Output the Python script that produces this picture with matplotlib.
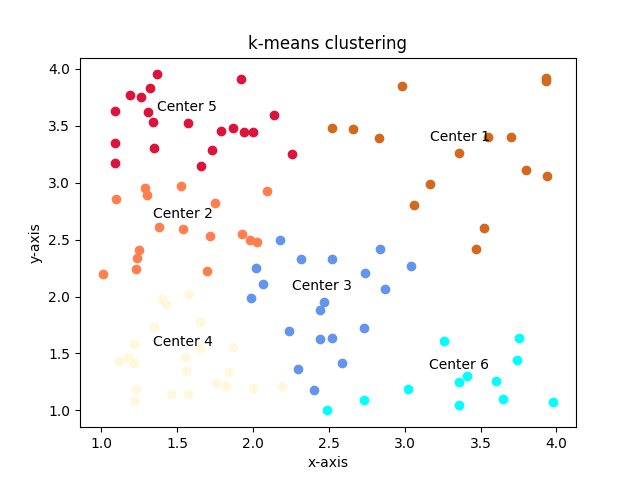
import matplotlib
matplotlib.use("Agg")
import matplotlib.pyplot as plt

red = [(1.37,3.95),(1.92,3.91),(1.19,3.77),(1.26,3.75),(1.32,3.83),(1.09,3.63),(1.31,3.62),(1.34,3.53),(1.57,3.52),(2.14,3.59),(1.79,3.45),(1.87,3.48),(1.94,3.44),(2.00,3.44),(1.09,3.35),(1.35,3.30),(1.73,3.29),(1.09,3.17),(1.66,3.15),(2.26,3.25)]
coral = [(1.29,2.95),(1.30,2.89),(1.53,2.97),(1.10,2.86),(1.75,2.82),(2.09,2.93),(1.38,2.61),(1.54,2.59),(1.72,2.53),(1.93,2.55),(1.98,2.50),(2.03,2.48),(1.25,2.41),(1.24,2.34),(1.01,2.20),(1.23,2.24),(1.70,2.22)]
choc = [(2.98,3.85),(3.93,3.92),(3.93,3.89),(2.52,3.48),(2.66,3.47),(2.83,3.39),(3.55,3.40),(3.70,3.40),(3.36,3.26),(3.17,2.99),(3.80,3.11),(3.94,3.06),(3.06,2.80),(3.52,2.60),(3.47,2.42)]
blue = [(2.18,2.50),(2.32,2.33),(2.52,2.33),(2.84,2.42),(3.04,2.27),(2.02,2.25),(2.74,2.21),(2.07,2.11),(2.87,2.07),(1.99,1.99),(2.47,1.95),(2.44,1.88),(2.24,1.70),(2.73,1.72),(2.44,1.63),(2.52,1.64),(2.59,1.42),(2.30,1.36),(2.40,1.18)]
cyan = [(3.26,1.61),(3.75,1.64),(3.74,1.44),(3.41,1.30),(3.36,1.25),(3.60,1.26),(3.02,1.19),(3.65,1.10),(3.36,1.05),(3.98,1.07),(2.73,1.09),(2.49,1.00)]
silk = [(1.40,1.98),(1.43,1.93),(1.58,2.02),(1.35,1.73),(1.65,1.78),(1.22,1.58),(1.55,1.47),(1.65,1.55),(1.87,1.56),(1.18,1.47),(1.22,1.42),(1.12,1.43),(1.56,1.35),(1.84,1.34),(1.76,1.24),(1.82,1.21),(2.00,1.20),(2.19,1.21),(1.23,1.19),(1.46,1.14),(1.57,1.14),(1.22,1.08)]

groups = [(choc,'chocolate'),(coral,'coral'),(blue,'cornflowerblue'),(silk,'cornsilk'),(red,'crimson'),(cyan,'cyan')]
labels = ["Center 1","Center 2","Center 3","Center 4","Center 5","Center 6"]
label_pos = [(3.17,3.40),(1.34,2.72),(2.26,2.09),(1.34,1.60),(1.37,3.66),(3.16,1.40)]

fig, ax = plt.subplots(figsize=(6.4,4.8), dpi=100)
for pts, c in groups:
    ax.scatter([p[0] for p in pts],[p[1] for p in pts], c=c)
for t,(x,y) in zip(labels,label_pos):
    ax.text(x,y,t,va='center',fontsize=10)
ax.set_title("k-means clustering")
ax.set_xlabel("x-axis")
ax.set_ylabel("y-axis")
fig.savefig("out.png")
